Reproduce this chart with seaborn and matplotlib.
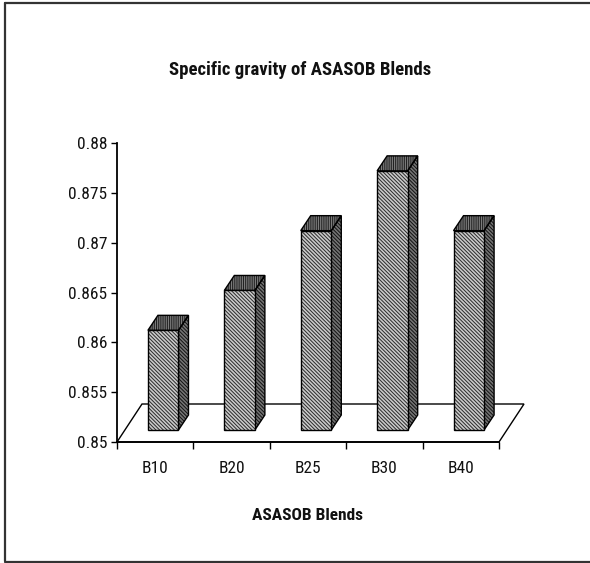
import matplotlib
matplotlib.use("Agg")
import matplotlib.pyplot as plt
from matplotlib import font_manager
from matplotlib.patches import Polygon, Rectangle
from matplotlib.lines import Line2D
import numpy as np
import pandas as pd
import seaborn as sns

# Specific gravity of the ASASOB biodiesel blends
blends = ["B10", "B20", "B25", "B30", "B40"]
specific_gravity = [0.860, 0.864, 0.870, 0.876, 0.870]
y_ticks = [0.85, 0.855, 0.86, 0.865, 0.87, 0.875, 0.88]
y_tick_labels = ["0.85", "0.855", "0.86", "0.865", "0.87", "0.875", "0.88"]

sns.set_theme(style="white")


def _w(f):
    w = f.weight
    if isinstance(w, str):
        return {"bold": 700, "normal": 400, "regular": 400}.get(w, 400)
    return int(w)


regular, bold = set(), set()
for f in font_manager.fontManager.ttflist:
    if f.style != "normal":
        continue
    if _w(f) >= 700:
        bold.add(f.name)
    elif _w(f) == 400:
        regular.add(f.name)
preferred = ["Liberation Sans Narrow", "Nimbus Sans Narrow", "Arimo Narrow",
             "Roboto Condensed", "PT Sans Narrow", "Archivo Narrow",
             "Open Sans Condensed", "IBM Plex Sans Condensed", "Liberation Sans"]
base_font = next((n for n in preferred if n in regular and n in bold), "Liberation Sans")
plt.rcParams["font.family"] = [base_font, "DejaVu Sans"]
plt.rcParams["hatch.linewidth"] = 0.7

DPI = 100
W, H = 590, 563
fig = plt.figure(figsize=(W / DPI, H / DPI), dpi=DPI)
fig.patch.set_facecolor("white")

# axes frame in pixels: left 117, right 499, top 143, bottom 442
ax = fig.add_axes([117 / W, (H - 442) / H, (499 - 117) / W, (442 - 143) / H])

df = pd.DataFrame({"blend": blends, "sg": specific_gravity})
sns.barplot(data=df, x="blend", y="sg", width=0.4, ax=ax,
            color="#e2e2e2", saturation=1)

ax.set_xlim(-0.5, len(blends) - 0.5)
ax.set_ylim(y_ticks[0], y_ticks[-1])
floor = y_ticks[0]


def px(dx, dy):
    """Convert a pixel offset (x right, y up) into data units."""
    inv = ax.transData.inverted()
    a = inv.transform((0, 0))
    b = inv.transform((dx, dy))
    return b[0] - a[0], b[1] - a[1]


# 3-D depth offsets (pixels)
front = px(8, 12)
depth = px(10, 15)
floor_depth = px(25, 38)

# floor plate
x0, x1 = -0.5, len(blends) - 0.5
ax.add_patch(Polygon([(x0, floor), (x1, floor),
                      (x1 + floor_depth[0], floor + floor_depth[1]),
                      (x0 + floor_depth[0], floor + floor_depth[1])],
                     closed=True, facecolor="white", edgecolor="black",
                     lw=1.0, zorder=1, clip_on=False))


def face(verts, fc, hc, hatch, z):
    p = Polygon(verts, closed=True, facecolor=fc, edgecolor=hc, hatch=hatch,
                lw=0, zorder=z, clip_on=False)
    ax.add_patch(p)
    o = Polygon(verts, closed=True, facecolor="none", edgecolor="black",
                lw=1.0, zorder=z + 0.1, clip_on=False)
    ax.add_patch(o)


for bar in list(ax.patches):
    if not isinstance(bar, Rectangle):
        continue
    bx = bar.get_x() + front[0]
    bw = bar.get_width()
    top = bar.get_y() + bar.get_height()
    bar.set_visible(False)
    yb = floor + front[1]
    yt = top + front[1]
    dx, dy = depth
    z = 3
    # side face
    face([(bx + bw, yb), (bx + bw + dx, yb + dy), (bx + bw + dx, yt + dy), (bx + bw, yt)],
         "#747474", "#111111", "\\\\\\\\\\\\\\\\\\", z)
    # top face
    face([(bx, yt), (bx + bw, yt), (bx + bw + dx, yt + dy), (bx + dx, yt + dy)],
         "#888888", "#1e1e1e", "|||||||||", z)
    # front face
    face([(bx, yb), (bx + bw, yb), (bx + bw, yt), (bx, yt)],
         "#cacaca", "#2a2a2a", "\\\\\\\\\\\\\\\\\\", z + 0.2)

# axes styling
for s in ["top", "right"]:
    ax.spines[s].set_visible(False)
for s in ["left", "bottom"]:
    ax.spines[s].set_color("black")
    ax.spines[s].set_linewidth(1.3)
    ax.spines[s].set_zorder(5)

ax.set_yticks(y_ticks)
ax.set_yticklabels(y_tick_labels, color="#111111")
ax.set_xticks(range(len(blends)))
ax.set_xticklabels(blends, color="#111111")
ax.set_xticks(np.arange(-0.5, len(blends)), minor=True)
ax.tick_params(labelsize=12.5)
ax.tick_params(axis="y", which="major", direction="out", length=4, width=1,
               color="black", left=True, pad=3)
ax.tick_params(axis="x", which="major", length=0, pad=14)
ax.tick_params(axis="x", which="minor", direction="out", length=5, width=1,
               color="black", bottom=True)
ax.set_xlabel("")
ax.set_ylabel("")
ax.patch.set_alpha(0)

title = fig.text(300 / W, 1 - 70 / H, "Specific gravity of ASASOB Blends",
                 ha="center", va="center", fontsize=13.5, fontweight="bold",
                 color="#111111")
xlab = fig.text(307 / W, 1 - 515 / H, "ASASOB Blends", ha="center", va="center",
                fontsize=12.5, fontweight="bold", color="#111111")

# size the title so that its printed width fits the layout
fig.canvas.draw()
r = fig.canvas.get_renderer()
w_title = title.get_window_extent(r).width
title.set_fontsize(float(np.clip(13.5 * 262 / w_title, 12, 15)))

# outer frame
for (xa, ya) in [((4.5 / W, 4.5 / W), (2.5 / H, 1 - 2.5 / H)),
                 ((4.5 / W, 1), (1 - 2.5 / H, 1 - 2.5 / H)),
                 ((4.5 / W, 1), (1.5 / H, 1.5 / H))]:
    fig.add_artist(Line2D(xa, ya, color="#333333", lw=1.6))

fig.savefig("out.png", dpi=DPI)
